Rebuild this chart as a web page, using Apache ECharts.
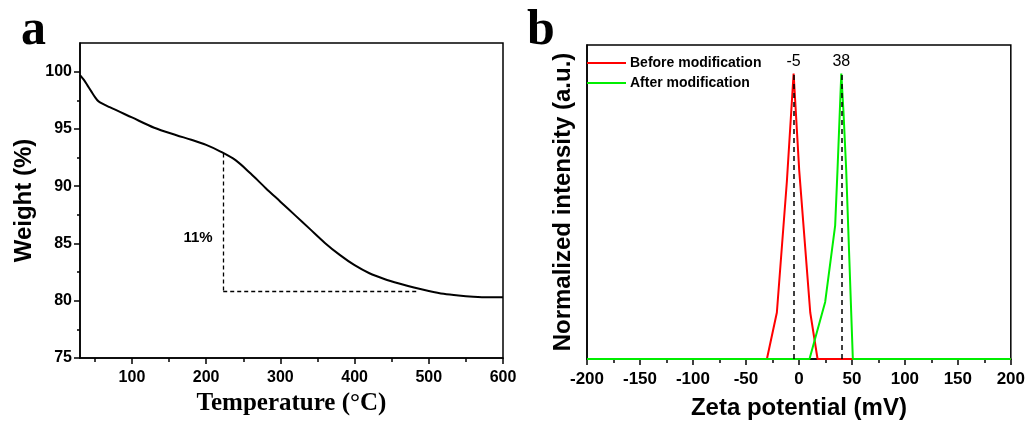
<!DOCTYPE html>
<html>
<head>
<meta charset="utf-8">
<script src="https://cdn.jsdelivr.net/npm/echarts@6/dist/echarts.min.js"></script>
<style>html,body{margin:0;padding:0;background:#fff;}#c{width:1028px;height:425px;}</style>
</head>
<body>
<div id="c"></div>
<script>
// ---- Panel a: TGA ----
const tgaTemp   = [30, 35, 40, 45, 50, 55, 70, 100, 130, 160, 180, 200, 220, 240, 260, 280, 300, 320, 340, 360, 380, 400, 420, 440, 460, 480, 500, 520, 540, 560, 580, 600];
const tgaWeight = [99.7, 99.3, 98.8, 98.3, 97.8, 97.4, 96.9, 96.0, 95.1, 94.45, 94.05, 93.6, 93.0, 92.25, 91.1, 89.85, 88.65, 87.45, 86.25, 85.05, 84.0, 83.1, 82.4, 81.9, 81.5, 81.15, 80.85, 80.6, 80.45, 80.35, 80.3, 80.3];
const tempTicks = [100, 200, 300, 400, 500, 600];
const tempMinorTicks = [50, 150, 250, 350, 450, 550];
const weightTicks = [75, 80, 85, 90, 95, 100];
const weightMinorTicks = [77.5, 82.5, 87.5, 92.5, 97.5];
const lossStartT = 223, lossStartW = 92.85, lossEndT = 485, lossEndW = 80.8;
const lossLabel = '11%';
const lossLabelPos = [189, 85.5];

// ---- Panel b: Zeta potential ----
const zetaBeforeX = [-200, -30.2, -20.8, -11.4, -5, 0.3, 10.7, 17.6, 200];
const zetaBeforeY = [0, 0, 0.163, 0.62, 1, 0.66, 0.163, 0, 0];
const zetaAfterX  = [-200, 10.0, 24.8, 34.2, 36.4, 40, 42.1, 44.6, 50.9, 200];
const zetaAfterY  = [0, 0, 0.2, 0.467, 0.66, 1, 0.863, 0.665, 0, 0];
const peakX = [-5, 40];
const peakLabels = ['-5', '38'];
const seriesNames = ['Before modification', 'After modification'];

const sans = 'Liberation Sans, Arial, sans-serif';
const serif = 'Liberation Serif, Times New Roman, serif';
const zip = (xs, ys) => xs.map((x, i) => [x, ys[i]]);
const axisLine = { show: true, onZero: false, lineStyle: { color: '#000', width: 1.5 } };

const chart = echarts.init(document.getElementById('c'), null, { renderer: 'canvas' });
chart.setOption({
  animation: false,
  backgroundColor: '#fff',
  title: [
    { text: 'a', left: 21, top: 6, padding: 0, textStyle: { fontFamily: serif, fontSize: 50, fontWeight: 'bold', color: '#000' } },
    { text: 'b', left: 527, top: 6, padding: 0, textStyle: { fontFamily: serif, fontSize: 50, fontWeight: 'bold', color: '#000' } }
  ],
  legend: {
    data: seriesNames.map(n => ({ name: n, icon: 'rect' })),
    orient: 'vertical',
    left: 587, top: 56,
    padding: 0,
    itemWidth: 39, itemHeight: 2, itemGap: 6,
    textStyle: { fontFamily: sans, fontSize: 14, fontWeight: 'bold', color: '#000', padding: [0, 0, 0, -1] },
    selectedMode: false
  },
  grid: [
    { left: 80, top: 43, width: 423, height: 315, show: true, borderColor: '#000', borderWidth: 1.5, backgroundColor: 'transparent' },
    { left: 587, top: 45, width: 424, height: 316, show: true, borderColor: '#000', borderWidth: 1.5, backgroundColor: 'transparent' }
  ],
  xAxis: [
    { gridIndex: 0, type: 'value', min: 30, max: 600, position: 'bottom',
      name: 'Temperature (°C)', nameLocation: 'middle', nameGap: 26,
      nameTextStyle: { fontFamily: serif, fontSize: 25, fontWeight: 'bold', color: '#000' },
      axisLine: axisLine,
      axisTick: { show: true, customValues: tempTicks, length: 6, lineStyle: { color: '#000', width: 1.5 } },
      axisLabel: { customValues: tempTicks, margin: 12, fontFamily: sans, fontSize: 16, fontWeight: 'bold', color: '#000' },
      splitLine: { show: false } },
    { gridIndex: 0, type: 'value', min: 30, max: 600, position: 'bottom',
      axisLine: { show: false },
      axisTick: { show: true, customValues: tempMinorTicks, length: 4, lineStyle: { color: '#000', width: 1.5 } },
      axisLabel: { show: false }, splitLine: { show: false } },
    { gridIndex: 1, type: 'value', min: -200, max: 200, interval: 50, position: 'bottom',
      name: 'Zeta potential (mV)', nameLocation: 'middle', nameGap: 37,
      nameTextStyle: { fontFamily: sans, fontSize: 24, fontWeight: 'bold', color: '#000' },
      axisLine: axisLine,
      axisTick: { show: true, length: 6, lineStyle: { color: '#000', width: 1.5 } },
      minorTick: { show: true, splitNumber: 2, length: 4, lineStyle: { color: '#000', width: 1.5 } },
      axisLabel: { margin: 12, fontFamily: sans, fontSize: 17, fontWeight: 'bold', color: '#000' },
      splitLine: { show: false }, minorSplitLine: { show: false } }
  ],
  yAxis: [
    { gridIndex: 0, type: 'value', min: 75, max: 102.5, position: 'left',
      name: 'Weight (%)', nameLocation: 'middle', nameGap: 44,
      nameTextStyle: { fontFamily: sans, fontSize: 24, fontWeight: 'bold', color: '#000' },
      axisLine: axisLine,
      axisTick: { show: true, customValues: weightTicks, length: 6, lineStyle: { color: '#000', width: 1.5 } },
      axisLabel: { customValues: weightTicks, margin: 8, fontFamily: sans, fontSize: 16, fontWeight: 'bold', color: '#000' },
      splitLine: { show: false } },
    { gridIndex: 0, type: 'value', min: 75, max: 102.5, position: 'left',
      axisLine: { show: false },
      axisTick: { show: true, customValues: weightMinorTicks, length: 3, lineStyle: { color: '#000', width: 1.5 } },
      axisLabel: { show: false }, splitLine: { show: false } },
    { gridIndex: 1, type: 'value', min: 0, max: 1.1, position: 'left',
      name: 'Normalized intensity (a.u.)', nameLocation: 'middle', nameGap: 12,
      nameTextStyle: { fontFamily: sans, fontSize: 24, fontWeight: 'bold', color: '#000' },
      axisLine: axisLine,
      axisTick: { show: false }, axisLabel: { show: false }, splitLine: { show: false } }
  ],
  series: [
    { type: 'line', xAxisIndex: 0, yAxisIndex: 0, data: zip(tgaTemp, tgaWeight),
      showSymbol: false, symbol: 'none', smooth: 0.3, silent: true,
      lineStyle: { color: '#000', width: 2 },
      markLine: { silent: true, symbol: 'none', label: { show: false },
        lineStyle: { color: '#000', width: 1.3, type: [4, 3] },
        data: [
          [{ coord: [lossStartT, lossStartW] }, { coord: [lossStartT, lossEndW] }],
          [{ coord: [lossStartT, lossEndW] }, { coord: [lossEndT, lossEndW] }]
        ] },
      markPoint: { silent: true, symbol: 'circle', symbolSize: 0,
        label: { show: true, position: 'inside', formatter: lossLabel, fontFamily: sans, fontSize: 15, fontWeight: 'bold', color: '#000' },
        data: [{ coord: lossLabelPos }] } },
    { name: seriesNames[0], type: 'line', xAxisIndex: 2, yAxisIndex: 2, data: zip(zetaBeforeX, zetaBeforeY),
      showSymbol: false, symbol: 'none', silent: true, z: 2,
      lineStyle: { color: '#ff0000', width: 2 }, itemStyle: { color: '#ff0000' } },
    { name: seriesNames[1], type: 'line', xAxisIndex: 2, yAxisIndex: 2, data: zip(zetaAfterX, zetaAfterY),
      showSymbol: false, symbol: 'none', silent: true, z: 3,
      lineStyle: { color: '#00ee00', width: 2 }, itemStyle: { color: '#00ee00' } },
    { name: 'peaks', type: 'line', xAxisIndex: 2, yAxisIndex: 2, data: [], z: 4, silent: true,
      markLine: { silent: true, symbol: 'none',
        lineStyle: { color: '#000', width: 1.5, type: [5, 4] },
        label: { show: true, position: 'end', distance: 4, fontFamily: sans, fontSize: 16, color: '#000' },
        data: peakX.map((x, i) => [{ coord: [x, 0] }, { coord: [x, 1], label: { formatter: peakLabels[i] } }]) } }
  ]
});
</script>
</body>
</html>
